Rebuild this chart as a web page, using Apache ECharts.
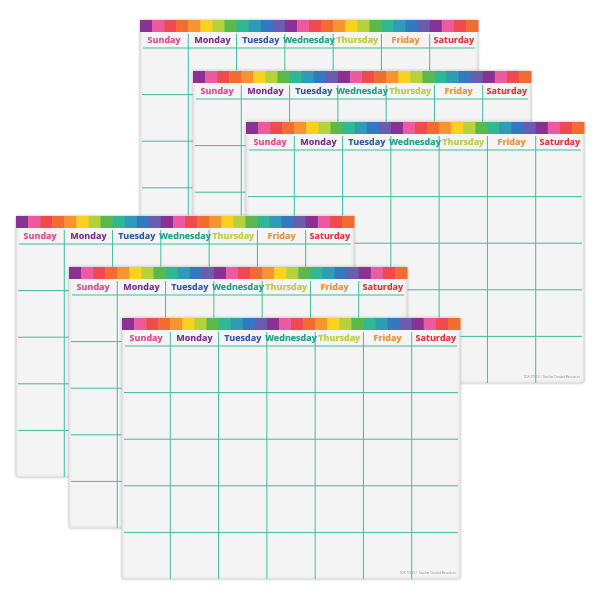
<!DOCTYPE html><html><head><meta charset="utf-8"><script src="https://cdn.jsdelivr.net/npm/echarts@6/dist/echarts.min.js"></script>
<style>html,body{margin:0;background:#fff}#c{width:600px;height:600px}</style></head><body><div id="c"></div><script>
const days=['Sunday','Monday','Tuesday','Wednesday','Thursday','Friday','Saturday'];
const dayColors=['#e8468f','#7a2b8c','#2c5aa8','#1aa58c','#c3d43c','#f29433','#e3323c'];
const stripeColors=['#8a3195','#ee5a9f','#ef4a4f','#f26b30','#f7942f','#fbd11f','#b6d23a','#5bb84a','#2fb894','#2e9cb5','#3578c2','#6a5cae'];
const sheetX=[140,193,246,16,69,122];
const sheetY=[20,71,122,216,267,318];
const rows=5;
const chart=echarts.init(document.getElementById('c'));
const W=338,H=261;
chart.setOption({
 animation:false,
 grid:{left:0,right:0,top:0,bottom:0},
 xAxis:{type:'value',min:0,max:600,show:false},
 yAxis:{type:'value',min:0,max:600,inverse:true,show:false},
 series:[{type:'custom',data:sheetX.map((x,i)=>[x,sheetY[i]]),
  renderItem:function(params,api){
   const p=api.coord([api.value(0),api.value(1)]);
   const x=p[0],y=p[1];
   const ch=[];
   ch.push({type:'rect',shape:{x:x,y:y,width:W,height:H,r:2},style:{fill:'#f4f4f4',stroke:'#dedede',lineWidth:1,shadowBlur:3,shadowColor:'rgba(0,0,0,0.18)'}});
   const n=28,sw=W/n;
   for(let k=0;k<n;k++){
     ch.push({type:'rect',shape:{x:x+k*sw,y:y,width:sw+0.5,height:12},style:{fill:stripeColors[k%12]}});
   }
   const cw=W/7, top=y+28, rh=(y+H-top)/rows;
   const lc='#3fbd9c';
   ch.push({type:'line',shape:{x1:x+3,y1:top,x2:x+W-3,y2:top},style:{stroke:lc,lineWidth:1}});
   for(let r=1;r<rows;r++)ch.push({type:'line',shape:{x1:x+2,y1:top+r*rh,x2:x+W-2,y2:top+r*rh},style:{stroke:lc,lineWidth:1}});
   for(let c=1;c<7;c++)ch.push({type:'line',shape:{x1:x+c*cw,y1:y+14,x2:x+c*cw,y2:y+H},style:{stroke:lc,lineWidth:1}});
   days.forEach((d,c)=>{
     ch.push({type:'text',style:{x:x+c*cw+cw/2,y:y+20,text:d,fill:dayColors[c],font:'bold 9px "Open Sans", sans-serif',align:'center',verticalAlign:'middle',textShadowColor:'rgba(0,0,0,0.25)',textShadowBlur:1,textShadowOffsetY:0.5}});
   });
   ch.push({type:'text',style:{x:x+W-4,y:y+H-4,text:'TCR 77123 © Teacher Created Resources',fill:'#999',font:'3px sans-serif',align:'right',verticalAlign:'bottom'}});
   return {type:'group',children:ch};
  }
 }]
});
</script></body></html>
